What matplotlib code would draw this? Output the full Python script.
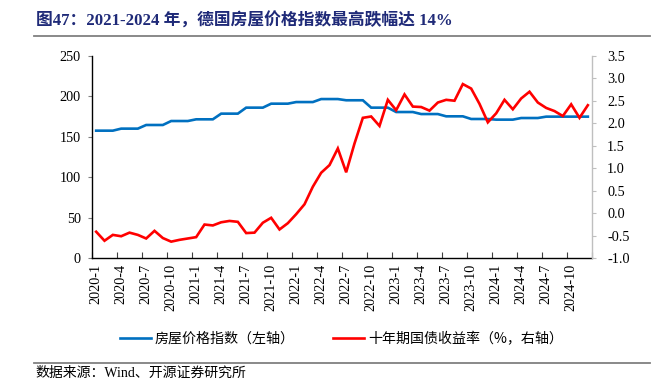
import numpy as np
import matplotlib
matplotlib.use("Agg")
import matplotlib.pyplot as plt

plt.rcParams["axes.unicode_minus"] = False

# ========== Data (monthly, 2020-1 .. 2024-12) ==========
months = ["%d-%d" % (y, m) for y in range(2020, 2025) for m in range(1, 13)]

# house price index (left axis), quarterly value held for each month
house_index = [
    157.5, 157.5, 157.5, 160.0, 160.0, 160.0, 164.5, 164.5, 164.5, 169.4, 169.4, 169.4,
    171.5, 171.5, 171.5, 178.5, 178.5, 178.5, 185.9, 185.9, 185.9, 190.8, 190.8, 190.8,
    192.8, 192.8, 192.8, 196.5, 196.5, 196.5, 195.0, 195.0, 195.0, 185.9, 185.9, 185.9,
    180.5, 180.5, 180.5, 178.0, 178.0, 178.0, 175.2, 175.2, 175.2, 171.9, 171.9, 171.9,
    171.1, 171.1, 171.1, 173.1, 173.1, 173.1, 174.8, 174.8, 174.8, 174.8, 174.8, 174.8,
]

# 10y government bond yield, % (right axis)
bond_yield = [
    -0.41, -0.61, -0.48, -0.51, -0.43, -0.48, -0.56, -0.39, -0.55, -0.63, -0.59, -0.56,
    -0.53, -0.25, -0.27, -0.20, -0.17, -0.19, -0.44, -0.43, -0.21, -0.10, -0.36, -0.22,
    -0.02, 0.20, 0.59, 0.90, 1.07, 1.44, 0.91, 1.55, 2.12, 2.15, 1.94, 2.52,
    2.29, 2.64, 2.37, 2.36, 2.28, 2.46, 2.52, 2.50, 2.87, 2.77, 2.43, 2.02,
    2.22, 2.52, 2.31, 2.55, 2.70, 2.46, 2.34, 2.27, 2.16, 2.42, 2.12, 2.40,
]

tick_labels = months[::3]

title = "图47：2021-2024 年，德国房屋价格指数最高跌幅达 14%"
source = "数据来源：Wind、开源证券研究所"
legend_labels = ["房屋价格指数（左轴）", "十年期国债收益率（%，右轴）"]

serif_cjk = ["Liberation Serif", "Noto Sans CJK SC"]
BLUE = "#0070C0"
RED = "#FF0000"

# ========== Figure ==========
fig = plt.figure(figsize=(6.64, 3.82), dpi=100)
ax = fig.add_axes([92 / 664, 1 - 258.3 / 382, 500 / 664, 202.6 / 382])
ax2 = ax.twinx()

x = np.arange(len(months))
l1, = ax.plot(x, house_index, color=BLUE, lw=1.9, solid_joinstyle="miter")
l2, = ax2.plot(x, bond_yield, color=RED, lw=1.9, solid_joinstyle="miter")

ax.set_xlim(-0.5, len(months) - 0.5)
ax.set_ylim(0, 250)
ax2.set_ylim(-1.0, 3.5)

ax.set_yticks(range(0, 251, 50))
ax2.set_yticks(np.arange(-1.0, 3.51, 0.5))
ax2.set_yticklabels(["%.1f" % v for v in np.arange(-1.0, 3.51, 0.5)])

# labels sit on categories, tick marks sit on category borders
ax.set_xticks(x[::3])
ax.set_xticklabels(tick_labels, rotation=90)
ax.set_xticks(np.arange(-0.5, len(months), 3), minor=True)
ax.tick_params(axis="x", which="major", length=0, pad=4)
ax.tick_params(axis="x", which="minor", direction="in", length=4, width=0.8, color="#404040")

ax.tick_params(axis="y", direction="out", length=3, width=0.8, color="#808080", pad=5)
ax2.tick_params(axis="y", direction="out", length=3, width=0.8, color="#BFBFBF", pad=8)

for lab in ax.get_xticklabels() + ax.get_yticklabels() + ax2.get_yticklabels():
    lab.set_fontfamily("Liberation Serif")
    lab.set_fontsize(10.3)

for s in ["top", "right"]:
    ax.spines[s].set_visible(False)
for s in ["top", "left", "bottom"]:
    ax2.spines[s].set_visible(False)
ax.spines["left"].set_color("#000000")
ax.spines["bottom"].set_color("#000000")
ax.spines["left"].set_linewidth(1.0)
ax.spines["bottom"].set_linewidth(1.0)
ax2.spines["right"].set_color("#BFBFBF")
ax2.spines["right"].set_linewidth(1.0)

# ========== Legend ==========
fig.legend([l1, l2], legend_labels, loc="center", bbox_to_anchor=(0.514, 1 - 339 / 382),
           ncol=2, frameon=False, handlelength=2.2, handletextpad=0.3, columnspacing=2.7,
           prop={"family": ["Noto Sans CJK SC"], "size": 10.1})

# ========== Title, rules, source ==========
fig.text(36 / 664, 1 - 21.5 / 382, title, ha="left", va="center", fontsize=12.1,
         fontweight="bold", color="#1F2A78", family=serif_cjk)
fig.add_artist(plt.Line2D([34 / 664, 650 / 664], [1 - 35.7 / 382] * 2,
                          color="#808080", lw=1.3, transform=fig.transFigure))
fig.add_artist(plt.Line2D([34 / 664, 650 / 664], [1 - 362.5 / 382] * 2,
                          color="#808080", lw=1.3, transform=fig.transFigure))
fig.text(35 / 664, 1 - 373.5 / 382, source, ha="left", va="center", fontsize=10.0,
         color="#000000", family=serif_cjk)

fig.savefig("out.png", dpi=100)
